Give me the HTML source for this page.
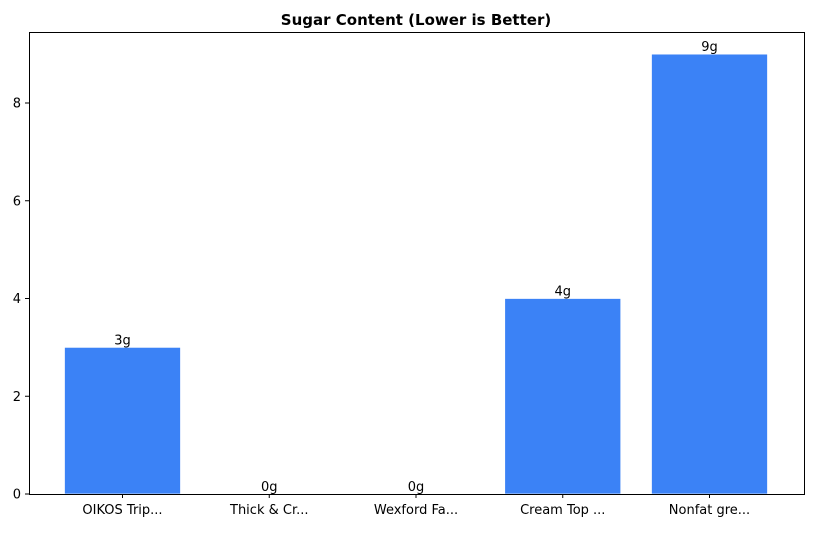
<!DOCTYPE html>
<html><head><meta charset="utf-8"><style>
body{margin:0;background:#fff;}
svg text{font-family:"DejaVu Sans","Liberation Sans",sans-serif;}
</style></head><body>
<svg id="chart" width="813" height="528" xmlns="http://www.w3.org/2000/svg">
<text x="416" y="25" text-anchor="middle" font-size="15" font-weight="bold">Sugar Content (Lower is Better)</text>
<g id="bars"></g>
<g id="ticks"></g>
<rect x="29.5" y="32.5" width="775" height="462" fill="none" stroke="#000" stroke-width="1"/>
</svg>
<script>
const categories = ["OIKOS Trip...","Thick & Cr...","Wexford Fa...","Cream Top ...","Nonfat gre..."];
const sugarValues = [3,0,0,4,9];
const valueLabels = ["3g","0g","0g","4g","9g"];
const yTicks = [0,2,4,6,8];

const NS="http://www.w3.org/2000/svg";
const bars=document.getElementById('bars');
const ticks=document.getElementById('ticks');
const y0=494, unit=48.875;
const yScale=v=>y0-v*unit;
const xScale=i=>122.5+i*146.75;
const bw=116;
function mk(tag,attrs,parent){const e=document.createElementNS(NS,tag);for(const k in attrs)e.setAttribute(k,attrs[k]);parent.appendChild(e);return e;}
sugarValues.forEach((v,i)=>{
  const cx=xScale(i);
  const r=mk('rect',{x:cx-bw/2,y:yScale(v),width:bw,height:y0-yScale(v),fill:'#3b82f6',stroke:'#ffffff','stroke-width':0.7},bars);
  
  
  const t=mk('text',{x:cx,y:yScale(v)-3,'text-anchor':'middle','font-size':13},bars);
  t.textContent=valueLabels[i];
  
  
  const tk=mk('line',{x1:cx,x2:cx,y1:y0,y2:y0+4,stroke:'#000'},ticks);
  
  
  const tl=mk('text',{x:cx,y:y0+20,'text-anchor':'middle','font-size':13},ticks);
  tl.textContent=categories[i];
  
  
});
yTicks.forEach(v=>{
  const y=yScale(v);
  const tk=mk('line',{x1:25,x2:29.5,y1:y,y2:y,stroke:'#000'},ticks);
  
  
  const tl=mk('text',{x:21,y:y+4.5,'text-anchor':'end','font-size':13},ticks);
  tl.textContent=v;
  
  
});
</script>
</body></html>
